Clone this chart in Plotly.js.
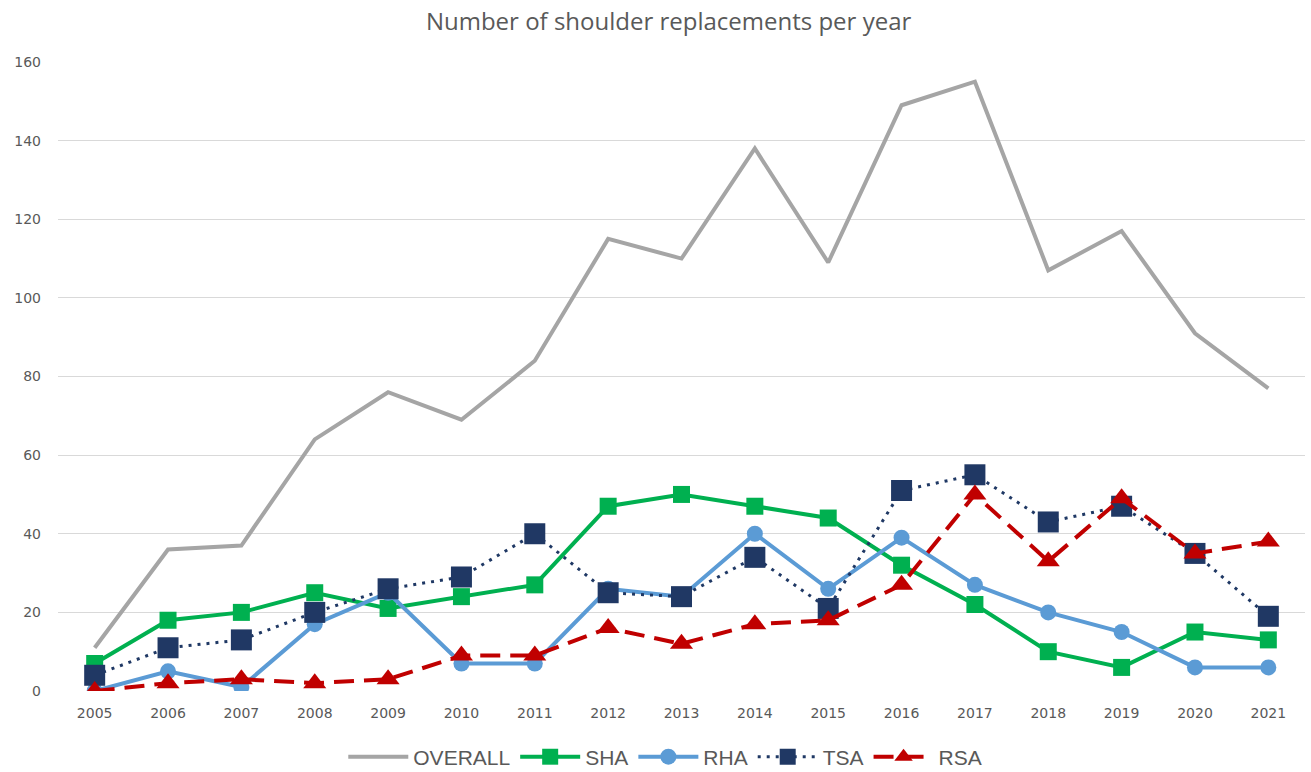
<!DOCTYPE html>
<html>
<head>
<meta charset="utf-8">
<script src="https://cdn.plot.ly/plotly-3.0.1.min.js"></script>
<style>html,body{margin:0;padding:0;background:#fff}#chart{width:1311px;height:772px}</style>
</head>
<body>
<div id="chart"></div>
<script>
const years = ["2005","2006","2007","2008","2009","2010","2011","2012","2013","2014","2015","2016","2017","2018","2019","2020","2021"];
const overall = [11, 36, 37, 64, 76, 69, 84, 115, 110, 138, 109, 149, 155, 107, 117, 91, 77];
const sha = [7, 18, 20, 25, 21, 24, 27, 47, 50, 47, 44, 32, 22, 10, 6, 15, 13];
const rha = [0, 5, 1, 17, 25, 7, 7, 26, 24, 40, 26, 39, 27, 20, 15, 6, 6];
const tsa = [4, 11, 13, 20, 26, 29, 40, 25, 24, 34, 21, 51, 55, 43, 47, 35, 19];
const rsa = [0, 2, 3, 2, 3, 9, 9, 16, 12, 17, 18, 27, 50, 33, 49, 35, 38];
const yTicks = [0, 20, 40, 60, 80, 100, 120, 140, 160];

const traces = [
  {name: "OVERALL", x: years, y: overall, type: "scatter", mode: "lines",
   line: {color: "#A5A5A5", width: 4}},
  {name: "SHA", x: years, y: sha, type: "scatter", mode: "lines+markers",
   line: {color: "#00B050", width: 4},
   marker: {symbol: "square", size: 17, color: "#00B050"}},
  {name: "RHA", x: years, y: rha, type: "scatter", mode: "lines+markers",
   line: {color: "#5B9BD5", width: 4},
   marker: {symbol: "circle", size: 16, color: "#5B9BD5"}},
  {name: "TSA", x: years, y: tsa, type: "scatter", mode: "lines+markers",
   line: {color: "#1F3864", width: 3, dash: "3px,6px"},
   marker: {symbol: "square", size: 21, color: "#203864"}},
  {name: "RSA", x: years, y: rsa, type: "scatter", mode: "lines+markers",
   line: {color: "#C00000", width: 4, dash: "20px,10px"},
   marker: {symbol: "triangle-up", size: 20, color: "#C00000"}}
];

const layout = {
  width: 1311, height: 772,
  margin: {l: 58, r: 6, t: 62, b: 81, autoexpand: false},
  paper_bgcolor: "#ffffff", plot_bgcolor: "#ffffff",
  title: {text: "Number of shoulder replacements per year", x: 0.51, xanchor: "center",
          y: 0.972, yanchor: "middle",
          font: {family: "Open Sans, Liberation Sans, sans-serif", size: 24, color: "#595959"}},
  xaxis: {type: "category", range: [-0.5, 16.5], showgrid: false, zeroline: false,
          showline: false, ticks: "", ticklabelstandoff: 12,
          tickfont: {family: "DejaVu Sans, sans-serif", size: 14, color: "#595959"},
          fixedrange: true},
  yaxis: {range: [0, 160], tickvals: yTicks, ticktext: yTicks.map(String),
          showgrid: true, gridcolor: "#D9D9D9", gridwidth: 1, zeroline: false, showline: false,
          ticks: "", ticklabelstandoff: 16,
          tickfont: {family: "DejaVu Sans, sans-serif", size: 14, color: "#595959"}},
  showlegend: true,
  legend: {orientation: "h", x: 0.487, xanchor: "center", y: -0.105, yanchor: "middle",
           font: {family: "Liberation Sans Narrow, Liberation Sans, sans-serif", size: 21, color: "#595959"},
           itemwidth: 60, traceorder: "normal"}
};

Plotly.newPlot("chart", traces, layout, {displayModeBar: false, staticPlot: true});
</script>
</body>
</html>
